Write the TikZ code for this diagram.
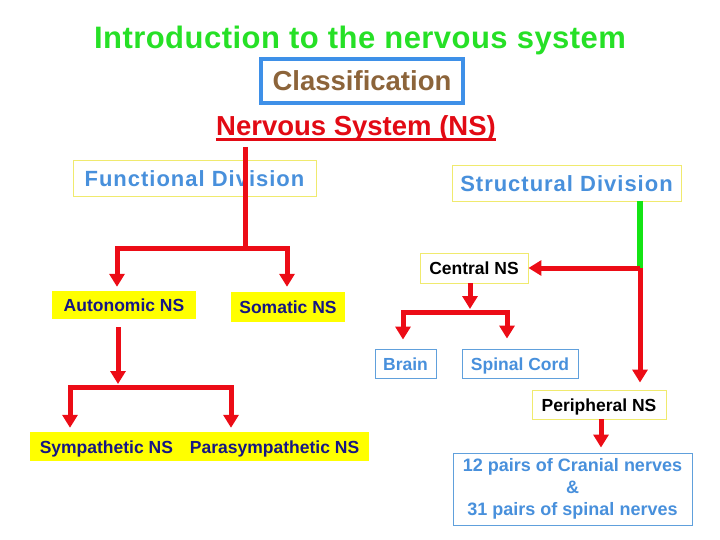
\documentclass[tikz,border=0pt]{standalone}
\usepackage{fontspec}
\setmainfont{Liberation Sans}
\usetikzlibrary{arrows.meta}

\definecolor{titlegreen}{RGB}{38,224,38}
\definecolor{linegreen}{RGB}{20,228,20}
\definecolor{classblue}{RGB}{62,144,232}
\definecolor{classbrown}{RGB}{140,100,58}
\definecolor{nsred}{RGB}{226,10,20}
\definecolor{arrowred}{RGB}{236,12,22}
\definecolor{textblue}{RGB}{72,144,220}
\definecolor{lineblue}{RGB}{96,160,220}
\definecolor{edgeyellow}{RGB}{240,234,110}
\definecolor{labelyellow}{RGB}{255,255,0}
\definecolor{navy}{RGB}{22,22,132}

\begin{document}
\begin{tikzpicture}[x=1pt,y=-1pt,
    divbox/.style={draw=edgeyellow, line width=0.9pt, fill=white, inner sep=0pt,
        text=textblue, font=\fontsize{22}{26}\selectfont\bfseries\addfontfeature{LetterSpace=4.5},
        text height=18.5pt, text depth=1.5pt},
    small/.style={font=\fontsize{17.5}{21}\selectfont\bfseries, inner sep=0pt},
    oneline/.style={text height=13.5pt, text depth=0.5pt},
    ylwbox/.style={small, oneline, draw=edgeyellow, line width=0.9pt, fill=white, text=black},
    fillbox/.style={small, oneline, fill=labelyellow, text=navy},
    bluebox/.style={small, draw=lineblue, line width=0.9pt, fill=white, text=textblue},
    conn/.style={draw=arrowred, line width=5pt},
    arr/.style={conn, -{Triangle[width=15pt,length=13pt]}, shorten >=4pt},
    biarr/.style={conn, {Triangle[width=15pt,length=13pt]}-{Triangle[width=15pt,length=13pt]}},
    greenline/.style={draw=linegreen, line width=6pt}]

    \useasboundingbox (0,0) rectangle (720,540);

    \node[anchor=base, text=titlegreen, font=\fontsize{31}{36}\selectfont\bfseries\addfontfeature{LetterSpace=1.5}]
        (title) at (360,49) {Introduction to the nervous system};
    \node[draw=classblue, line width=4pt, minimum width=202pt, minimum height=44pt, inner sep=0pt,
        text=classbrown, font=\fontsize{27.5}{32}\selectfont\bfseries] (cls) at (362,81) {Classification};
    \node[anchor=base, inner sep=0pt, text=nsred, font=\fontsize{27.5}{32}\selectfont\bfseries]
        (ns) at (356,136) {Nervous System (NS)};
    \draw[nsred, line width=2.4pt] ([yshift=-3.5pt]ns.base west) -- ([yshift=-3.5pt]ns.base east);

    \node[divbox, minimum width=243pt, minimum height=36pt] (func) at (194.5,178) {Functional Division};
    \node[divbox, minimum width=229pt, minimum height=36pt] (struct) at (566.5,183) {Structural Division};

    \node[fillbox, minimum width=144pt, minimum height=28pt] (auto) at (124,305) {Autonomic NS};
    \node[fillbox, minimum width=114pt, minimum height=30pt] (soma) at (288,307) {Somatic NS};
    \node[fillbox, minimum width=339pt, minimum height=29pt] (sympara) at (199.5,446.5)
        {Sympathetic NS\hspace{17pt}Parasympathetic NS};

    \node[ylwbox, minimum width=108pt, minimum height=30pt] (central) at (474,268) {Central NS};
    \node[bluebox, oneline, minimum width=61pt, minimum height=29pt] (brain) at (405.5,363.5) {Brain};
    \node[bluebox, oneline, minimum width=116pt, minimum height=29pt] (spinal) at (520,363.5) {Spinal Cord};
    \node[ylwbox, minimum width=134pt, minimum height=29pt] (periph) at (599,404.5) {Peripheral NS};
    \node[bluebox, minimum width=239pt, minimum height=72pt, align=center,
        font=\fontsize{18}{22}\selectfont\bfseries] (nerves) at (572.5,489)
        {12 pairs of Cranial nerves\\\&\\31 pairs of spinal nerves};

    \coordinate (ftop) at (245,147);
    \coordinate (fsplit) at (245,248);
    \coordinate (asplit) at (118,387);
    \coordinate (ssplit) at (640,268);
    \coordinate (csplit) at (470,312);

    \draw[conn] (ftop) -- (fsplit);
    \draw[biarr, shorten <=4pt, shorten >=5pt] ([xshift=-7pt]auto.north) |- (fsplit) -| ([xshift=-1pt]soma.north);

    \draw[arr, shorten >=3pt] ([yshift=-8pt]asplit |- auto.south) -- (asplit);
    \draw[biarr, shorten <=4pt, shorten >=4pt] ([xshift=-129.5pt]sympara.north) |- (asplit) -| ([xshift=31.5pt]sympara.north);

    \draw[greenline] ([xshift=73.5pt]struct.south) -- (ssplit);
    \draw[arr, shorten >=0pt] (ssplit) -- (central.east);
    \draw[arr, shorten >=7pt] (ssplit) -- (ssplit |- periph.north);

    \draw[arr, shorten >=3pt] ([xshift=-4pt]central.south) -- (csplit);
    \draw[biarr, shorten <=9pt, shorten >=10pt] ([xshift=-2.5pt]brain.north) |- (csplit) -| ([xshift=-13pt]spinal.north);

    \draw[arr, shorten >=5pt] ([xshift=2pt]periph.south) -- ([xshift=2pt]periph.south |- nerves.north);
\end{tikzpicture}
\end{document}
